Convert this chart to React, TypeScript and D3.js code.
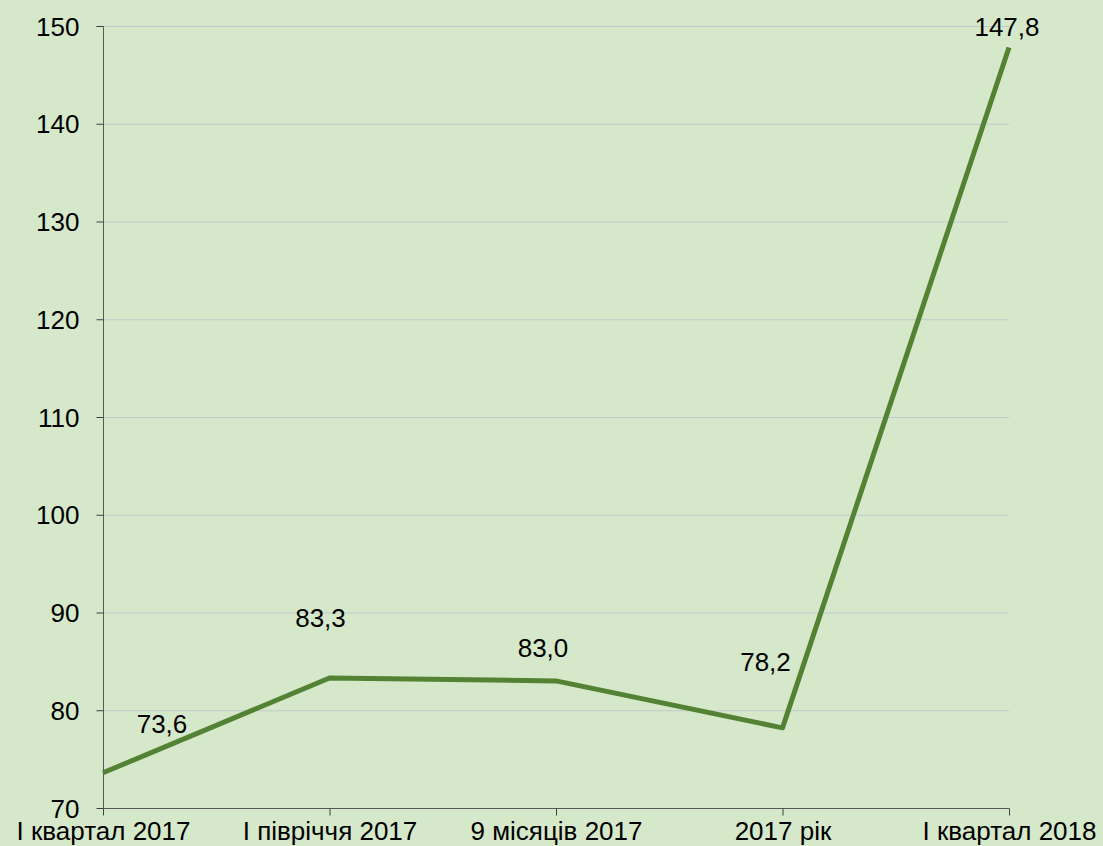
import React, { useEffect, useRef } from "react";
import * as d3 from "d3";

const categories = ["І квартал 2017", "І півріччя 2017", "9 місяців 2017", "2017 рік", "І квартал 2018"];
const values = [73.6, 83.3, 83.0, 78.2, 147.8];
const valueLabels = ["73,6", "83,3", "83,0", "78,2", "147,8"];
const yTicks = [70, 80, 90, 100, 110, 120, 130, 140, 150];
// label placement offsets (layout, px) relative to each point
const labelDx = [59, -9, -13, -17, -2];
const labelDy = [-49, -60, -33, -66, -21];

const W = 1103;
const H = 846;
const left = 103;
const right = 1009;
const top = 26;
const bottom = 808;
const FS = 26;
const FONT = "'Liberation Sans', Arial, sans-serif";

export default function App() {
  const ref = useRef<SVGSVGElement>(null);
  useEffect(() => {
    const svg = d3.select(ref.current);
    svg.selectAll("*").remove();
    const x = d3.scalePoint<string>().domain(categories).range([left, right]);
    const y = d3.scaleLinear().domain([70, 150]).range([bottom, top]);

    svg.append("rect").attr("width", W).attr("height", H).attr("fill", "#d5e8ca");

    svg.append("g")
      .selectAll("line")
      .data(yTicks.filter((t) => t !== 70))
      .join("line")
      .attr("x1", left)
      .attr("x2", right)
      .attr("y1", (d) => y(d) + 0.5)
      .attr("y2", (d) => y(d) + 0.5)
      .attr("stroke", "#c3c9cc")
      .attr("stroke-width", 1);

    const yAxis = svg.append("g")
      .attr("transform", `translate(${left + 0.5},0)`)
      .call(d3.axisLeft(y).tickValues(yTicks).tickSize(7).tickPadding(17).tickFormat((d) => String(d)));
    yAxis.select(".domain").attr("stroke", "#595959").attr("d", `M-7,${top + 0.5}H0V${bottom + 0.5}`);
    yAxis.selectAll(".tick line").attr("stroke", "#404040");
    yAxis.selectAll("text").attr("font-family", FONT).attr("font-size", FS).attr("fill", "#000").attr("dy", "0.35em");

    const xAxis = svg.append("g")
      .attr("transform", `translate(0,${bottom + 0.5})`)
      .call(d3.axisBottom(x).tickSize(7).tickPadding(6));
    xAxis.select(".domain").attr("stroke", "#595959").attr("d", `M${left},0H${right + 0.5}`);
    xAxis.selectAll(".tick line").attr("stroke", "#404040");
    xAxis.selectAll("text").attr("font-family", FONT).attr("font-size", FS).attr("fill", "#000").attr("dy", "0.72em");

    const line = d3.line<number>()
      .x((_, i) => x(categories[i]) as number)
      .y((d) => y(d));
    svg.append("path")
      .datum(values)
      .attr("d", line)
      .attr("fill", "none")
      .attr("stroke", "#548235")
      .attr("stroke-width", 5)
      .attr("stroke-linejoin", "round");

    svg.append("g")
      .selectAll("text")
      .data(values)
      .join("text")
      .attr("x", (_, i) => (x(categories[i]) as number) + labelDx[i])
      .attr("y", (d, i) => y(d) + labelDy[i])
      .attr("dy", "0.35em")
      .attr("text-anchor", "middle")
      .attr("font-family", FONT)
      .attr("font-size", FS)
      .attr("fill", "#000")
      .text((_, i) => valueLabels[i]);
  }, []);
  return (
    <svg ref={ref} width={W} height={H} style={{ position: "absolute", left: 0, top: 0, display: "block" }} />
  );
}
